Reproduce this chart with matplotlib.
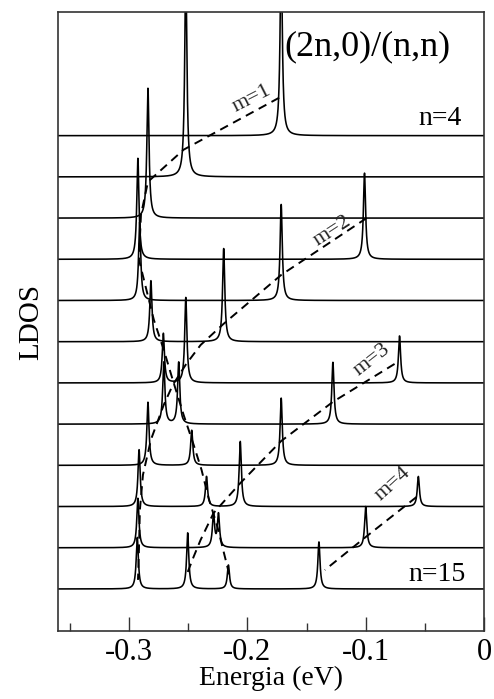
import numpy as np
import matplotlib
matplotlib.use("Agg")
import matplotlib.pyplot as plt

plt.rcParams['font.family'] = ['Liberation Serif', 'DejaVu Serif']

# ---------------- data ----------------
n_values = [4, 5, 6, 7, 8, 9, 10, 11, 12, 13, 14, 15]
# curve offsets (n=15 at bottom)
offsets = [11, 10, 9, 8, 7, 6, 5, 4, 3, 2, 1, 0]

# peak energies (eV) and heights (in curve-spacing units) per curve
peak_E = [
    [-0.1714],
    [-0.2520],
    [-0.2840],
    [-0.2925, -0.1010],
    [-0.2910, -0.1714],
    [-0.2815, -0.2200],
    [-0.2710, -0.2520, -0.0714],
    [-0.2706, -0.2580, -0.1277],
    [-0.2840, -0.2470, -0.1714],
    [-0.2915, -0.2345, -0.2060, -0.0555],
    [-0.2925, -0.2286, -0.2244, -0.1000],
    [-0.2930, -0.2504, -0.2160, -0.1395],
]
peak_H = [
    [4.5],
    [5.0],
    [3.15],
    [2.45, 2.09],
    [1.90, 2.33],
    [1.48, 2.26],
    [1.20, 2.07, 1.14],
    [1.50, 1.50, 1.50],
    [1.53, 0.85, 1.63],
    [1.38, 0.73, 1.58, 0.73],
    [1.20, 0.80, 0.80, 1.00],
    [1.25, 1.36, 0.58, 1.14],
]
broadening = 0.0011  # eV, Lorentzian half width

# dashed guide lines (E, stacked LDOS value)
m1_E = [-0.1731, -0.2538, -0.2840, -0.2899, -0.2916, -0.2790, -0.2706, -0.2630,
        -0.2538, -0.2454, -0.2387, -0.2328, -0.2252, -0.2168, -0.2143]
m1_y = [11.92, 10.66, 9.88, 9.08, 7.99, 6.53, 5.80, 5.07, 4.22, 3.50, 2.89,
        2.21, 1.50, 0.53, 0.22]
m2_E = [-0.0992, -0.1714, -0.2202, -0.2395, -0.2521, -0.2630, -0.2706, -0.2815,
        -0.2882, -0.2908, -0.2916, -0.2924]
m2_y = [9.00, 7.62, 6.43, 5.92, 5.44, 4.95, 4.47, 3.62, 2.77, 1.92, 0.95, 0.22]
m3_E = [-0.0756, -0.1277, -0.1714, -0.2059, -0.2286, -0.2395, -0.2454, -0.2504]
m3_y = [5.46, 4.54, 3.59, 2.57, 1.84, 1.19, 0.78, 0.41]
m4_E = [-0.0571, -0.1000, -0.1345]
m4_y = [2.23, 1.26, 0.46]

m_labels = ['m=1', 'm=2', 'm=3', 'm=4']
m_label_E = [-0.1960, -0.1280, -0.0950, -0.0773]
m_label_y = [11.90, 8.68, 5.55, 2.55]
m_label_rot = [27, 33, 38, 42]

xticks = [-0.3, -0.2, -0.1, 0.0]
xtick_labels = ['-0.3', '-0.2', '-0.1', '0']
minor_ticks = [-0.35, -0.25, -0.15, -0.05]

# ---------------- figure ----------------
fig = plt.figure(figsize=(4.94, 6.99), dpi=100)
ax = fig.add_axes([0.1174, 0.0973, 0.8624, 0.8855])

E = np.linspace(-0.36, 0.0, 40001)
for off, Es, Hs in zip(offsets, peak_E, peak_H):
    y = np.full_like(E, float(off))
    for e0, h in zip(Es, Hs):
        y += h * broadening**2 / ((E - e0)**2 + broadening**2)
    ax.plot(E, y, color='black', lw=1.15)

for xs, ys in [(m1_E, m1_y), (m2_E, m2_y), (m3_E, m3_y), (m4_E, m4_y)]:
    ax.plot(xs, ys, color='black', lw=1.4, dashes=(4.5, 3.0))

for lab, xe, ye, r in zip(m_labels, m_label_E, m_label_y, m_label_rot):
    ax.text(xe, ye, lab, rotation=r, ha='center', va='center', fontsize=16,
            rotation_mode='anchor', color='#222222')

ax.text(-0.169, 13.16, '(2n,0)/(n,n)', ha='left', va='center', fontsize=26)
ax.text(-0.0185, 11.41, 'n=4', ha='right', va='center', fontsize=20)
ax.text(-0.0151, 0.36, 'n=15', ha='right', va='center', fontsize=20)

ax.set_xlim(-0.36, 0.0)
ax.set_ylim(-1.02, 14.0)
ax.set_xticks(xticks)
ax.set_xticklabels(xtick_labels, fontsize=22)
ax.set_xticks(minor_ticks, minor=True)
ax.set_yticks([])
ax.tick_params(axis='x', which='major', direction='in', length=10, width=1.0,
               pad=5, top=False, colors='#333333', labelcolor='black')
ax.tick_params(axis='x', which='minor', direction='in', length=5.5, width=1.0,
               top=False, colors='#333333')
for s in ax.spines.values():
    s.set_color('#333333')
    s.set_linewidth(1.2)

ax.set_xlabel('Energia (eV)', fontsize=20, labelpad=-1)
ax.set_ylabel('LDOS', fontsize=21, labelpad=10)

fig.savefig('out.png', dpi=100)
